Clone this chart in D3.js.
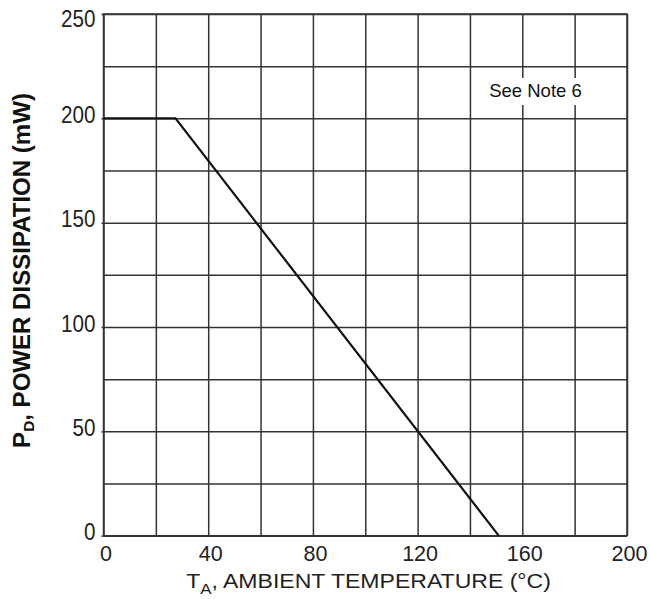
<!DOCTYPE html>
<html><head><meta charset="utf-8">
<script src="https://cdn.jsdelivr.net/npm/d3@7"></script>
<style>body{margin:0;background:#fff}svg{display:block}text{font-family:"Liberation Sans",Arial,sans-serif}</style>
</head><body>
<svg id="c" width="650" height="599"></svg>
<script>
const curveT = [0, 27.5, 151];
const curveP = [200, 200, 0];
const xGridTicks = [0,20,40,60,80,100,120,140,160,180,200];
const yGridTicks = [0,25,50,75,100,125,150,175,200,225,250];
const xLabelTicks = [0,40,80,120,160,200];
const yLabelTicks = [0,50,100,150,200,250];
const noteText = "See Note 6";

const svg = d3.select("#c");
const L = 103.5, R = 627, T = 14, B = 535.7;
const x = d3.scaleLinear().domain([0,200]).range([L,R]);
const y = d3.scaleLinear().domain([0,250]).range([B,T]);
const gridColor = "#333";

// grid
const gx = svg.append("g").attr("transform",`translate(0,${B})`)
  .call(d3.axisBottom(x).tickValues(xGridTicks).tickSize(-(B-T)).tickFormat(""));
gx.select(".domain").remove();
gx.selectAll("line").attr("stroke",gridColor).attr("stroke-width",1.5);
const gy = svg.append("g").attr("transform",`translate(${L},0)`)
  .call(d3.axisLeft(y).tickValues(yGridTicks).tickSize(-(R-L)).tickFormat(""));
gy.select(".domain").remove();
gy.selectAll("line").attr("stroke",gridColor).attr("stroke-width",1.5);

// border
svg.append("rect").attr("x",L).attr("y",T).attr("width",R-L).attr("height",B-T)
  .attr("fill","none").attr("stroke",gridColor).attr("stroke-width",1.5);

// labels
const lx = svg.append("g").attr("transform",`translate(0,${B})`)
  .call(d3.axisBottom(x).tickValues(xLabelTicks).tickSize(0).tickPadding(10).tickFormat(d3.format("d")));
lx.select(".domain").remove();
lx.selectAll("text").attr("font-size",21.5).attr("fill","#222").attr("dy","0.71em").attr("dx",2);
const ly = svg.append("g").attr("transform",`translate(${L},0)`)
  .call(d3.axisLeft(y).tickValues(yLabelTicks).tickSize(2).tickPadding(6).tickFormat(d3.format("d")));
ly.select(".domain").remove();
ly.selectAll("line").attr("stroke",gridColor).attr("stroke-width",1.5);
ly.selectAll("text").attr("font-size",24).attr("fill","#222")
  .attr("dy", d => d === 250 ? "12.6px" : "0.17em")
  .attr("x",-8/0.86).attr("transform","scale(0.86,1)");

// note
svg.append("rect").attr("x",486).attr("y",78).attr("width",100).attr("height",27).attr("fill","#fff");
svg.append("text").attr("x",535.5).attr("y",97).attr("text-anchor","middle")
  .attr("font-size",18.5).attr("fill","#111").text(noteText);

// curve
const line = d3.line().x((d,i)=>x(curveT[i])).y((d,i)=>y(curveP[i]));
svg.append("path").datum(curveT).attr("d",line).attr("fill","none")
  .attr("stroke","#111").attr("stroke-width",2.2);

// axis titles
function fitLen(sel, target){
  return target / sel.node().getComputedTextLength();
}
const xt = svg.append("text").attr("x",0).attr("y",0).attr("text-anchor","middle")
  .attr("font-size",20.5).attr("fill","#222");
xt.append("tspan").text("T");
xt.append("tspan").attr("font-size",15).attr("dy",6).text("A");
xt.append("tspan").attr("dy",-6).text(", AMBIENT TEMPERATURE (°C)");
const kx = fitLen(xt, 365);
xt.attr("transform",`translate(368.5,588) scale(${kx},1)`);

const yt = svg.append("text").attr("x",0).attr("y",0)
  .attr("text-anchor","middle").attr("font-size",23.5).attr("font-weight","bold").attr("fill","#111");
yt.append("tspan").text("P");
yt.append("tspan").attr("font-size",15).attr("dy",4).text("D");
yt.append("tspan").attr("dy",-4).text(", POWER DISSIPATION (mW)");
const ky = fitLen(yt, 355);
yt.attr("transform",`translate(30,270.5) rotate(-90) scale(${ky},1)`);
</script>
</body></html>
